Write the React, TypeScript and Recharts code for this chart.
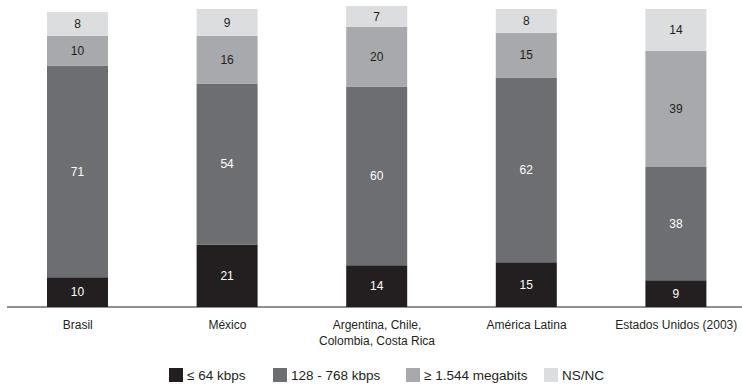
import { BarChart, Bar, XAxis, YAxis, LabelList, Legend } from "recharts";

const categorias = [
  "Brasil",
  "México",
  "Argentina, Chile,\nColombia, Costa Rica",
  "América Latina",
  "Estados Unidos (2003)",
];
const ate64 = [10, 21, 14, 15, 9];
const de128a768 = [71, 54, 60, 62, 38];
const acima1544 = [10, 16, 20, 15, 39];
const nsnc = [8, 9, 7, 8, 14];

const series = [
  { key: "ate64", nome: "≤ 64 kbps", cor: "#231f20", texto: "#ffffff" },
  { key: "de128a768", nome: "128 - 768 kbps", cor: "#6d6e71", texto: "#ffffff" },
  { key: "acima1544", nome: "≥ 1.544 megabits", cor: "#a7a9ac", texto: "#231f20" },
  { key: "nsnc", nome: "NS/NC", cor: "#dcdddf", texto: "#231f20" },
];

const data = categorias.map((categoria, i) => ({
  categoria,
  ate64: ate64[i],
  de128a768: de128a768[i],
  acima1544: acima1544[i],
  nsnc: nsnc[i],
}));

const fonte = '"Liberation Sans", Arial, Helvetica, sans-serif';
const legendaLeft = [169, 273, 406, 544];

function CategoriaTick({ x, y, payload }: any) {
  const linhas = String(payload.value).split("\n");
  return (
    <text x={x} y={y} textAnchor="middle" fill="#231f20" fontSize={12} fontFamily={fonte}>
      {linhas.map((l, i) => (
        <tspan key={i} x={x} dy={i === 0 ? 13.5 : 16.5}>
          {l}
        </tspan>
      ))}
    </text>
  );
}

function Legenda() {
  return (
    <div style={{ position: "relative", height: 20, fontFamily: fonte, fontSize: 13.5, color: "#231f20" }}>
      {series.map((s, i) => (
        <div
          key={s.key}
          style={{ position: "absolute", left: legendaLeft[i], top: 0, height: 20, display: "flex", alignItems: "center", whiteSpace: "nowrap" }}
        >
          <span style={{ display: "inline-block", width: 14, height: 14, background: s.cor, marginRight: 4 }} />
          <span>{s.nome}</span>
        </div>
      ))}
    </div>
  );
}

export default function App() {
  return (
    <div style={{ position: "absolute", left: 0, top: 0, width: 742, height: 385, overflow: "hidden", background: "#fff" }}>
      <BarChart width={751} height={385} data={data} margin={{ top: 6, right: 0, bottom: 0, left: 7 }} barSize={61}>
        <XAxis
          dataKey="categoria"
          interval={0}
          height={58}
          padding={{ left: -4, right: 0 }}
          tickLine={false}
          axisLine={{ stroke: "#231f20", strokeWidth: 1 }}
          tick={<CategoriaTick />}
        />
        <YAxis hide domain={[0, 101]} />
        <Legend content={<Legenda />} wrapperStyle={{ left: 0, bottom: 0, width: 742, height: 20 }} />
        {series.map((s) => (
          <Bar key={s.key} dataKey={s.key} stackId="a" fill={s.cor} isAnimationActive={false}>
            <LabelList dataKey={s.key} position="center" fill={s.texto} fontSize={12} fontFamily={fonte} />
          </Bar>
        ))}
      </BarChart>
    </div>
  );
}
